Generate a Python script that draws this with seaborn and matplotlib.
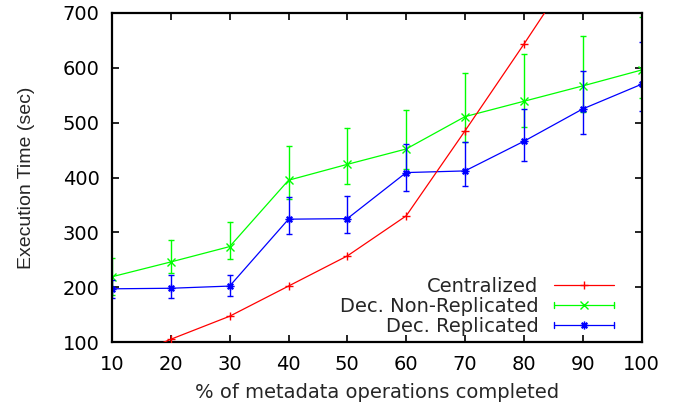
import numpy as np
import pandas as pd
import matplotlib
matplotlib.use("Agg")
import matplotlib.pyplot as plt
import seaborn as sns
from matplotlib.lines import Line2D
from matplotlib.legend_handler import HandlerBase

# ---------------- data ----------------
pct = [10, 20, 30, 40, 50, 60, 70, 80, 90, 100]
central = [60, 105, 147, 202, 257, 330, 485, 643, 805, 965]
nonrep = [219, 246, 274, 395, 424, 452, 511, 539, 567, 596]
nonrep_lo = [185, 225, 251, 360, 388, 415, 465, 492, 519, 545]
nonrep_hi = [253, 286, 318, 458, 491, 524, 591, 625, 658, 692]
rep = [197, 198, 202, 324, 325, 409, 412, 466, 525, 570]
rep_lo = [181, 181, 184, 297, 299, 375, 384, 431, 479, 521]
rep_hi = [213, 222, 223, 365, 367, 461, 464, 525, 594, 648]
series_names = ["Centralized", "Dec. Non-Replicated", "Dec. Replicated"]
colors = ["#ff0000", "#00ff00", "#0000ff"]
markers = ["+", "x", (8, 2, 0)]
x_ticks = [10, 20, 30, 40, 50, 60, 70, 80, 90, 100]
y_ticks = [100, 200, 300, 400, 500, 600, 700]
x_label = "% of metadata operations completed"
y_label = "Execution Time (sec)"

# long-form tables
df_c = pd.DataFrame({"pct": pct, "time": central, "series": series_names[0]})
rows = []
for name, mid, lo, hi in [(series_names[1], nonrep, nonrep_lo, nonrep_hi),
                          (series_names[2], rep, rep_lo, rep_hi)]:
    for x, m, l, h in zip(pct, mid, lo, hi):
        rows += [(name, x, l), (name, x, m), (name, x, h)]
df_d = pd.DataFrame(rows, columns=["series", "pct", "time"])

# ---------------- style ----------------
sns.set_style("ticks")
plt.rcParams["font.family"] = ["DejaVu Sans"]
plt.rcParams["font.size"] = 14

fig = plt.figure(figsize=(6.84, 4.05), dpi=100)
ax = fig.add_axes([112 / 684, 1 - 342 / 405, 529.5 / 684, 329 / 405])

lw = 0.9
ms = 5.5
for name, col, mk in zip(series_names[1:], colors[1:], markers[1:]):
    sns.lineplot(data=df_d[df_d["series"] == name], x="pct", y="time",
                 estimator="median", errorbar=("pi", 100), err_style="bars",
                 err_kws=dict(capsize=2.5, elinewidth=1.0, capthick=1.0),
                 color=col, marker=mk, ms=ms, mew=1.0, mec=col, lw=lw,
                 ax=ax, legend=False)
sns.lineplot(data=df_c, x="pct", y="time", errorbar=None, color=colors[0],
             marker=markers[0], ms=ms, mew=1.0, mec=colors[0], lw=lw,
             ax=ax, legend=False, zorder=5)

ax.set_xlim(10, 100)
ax.set_ylim(100, 700)
ax.set_xticks(x_ticks)
ax.set_yticks(y_ticks)
ax.tick_params(direction="in", length=5, width=1.2, top=True, right=True,
               labelsize=14, color="black", labelcolor="black")
ax.tick_params(axis="y", pad=9)
ax.tick_params(axis="x", pad=9.5)
for s in ax.spines.values():
    s.set_visible(True)
    s.set_linewidth(1.6)
    s.set_color("black")

ax.set_xlabel(x_label, fontsize=14)
ax.set_ylabel(y_label, fontsize=14, family=["Liberation Sans"])
ax.xaxis.set_label_coords(0.5, -0.125)
ax.yaxis.set_label_coords(-0.145, 0.5)


class ErrLineHandler(HandlerBase):
    def __init__(self, caps):
        super().__init__()
        self.caps = caps

    def create_artists(self, legend, orig, xdescent, ydescent, width, height,
                       fontsize, trans):
        y = height / 2 - ydescent
        x0, x1 = -xdescent, width - xdescent
        c = orig.get_color()
        arts = [Line2D([x0, x1], [y, y], color=c, lw=orig.get_linewidth()),
                Line2D([(x0 + x1) / 2], [y], marker=orig.get_marker(),
                       ms=orig.get_markersize(), mec=c, mew=1.0, ls="")]
        if self.caps:
            d = 2.3
            arts += [Line2D([x0, x0], [y - d, y + d], color=c, lw=1.0),
                     Line2D([x1, x1], [y - d, y + d], color=c, lw=1.0)]
        for a in arts:
            a.set_transform(trans)
        return arts


handles = [Line2D([], [], color=c, marker=m, ms=ms, lw=lw)
           for c, m in zip(colors, markers)]
hmap = {handles[0]: ErrLineHandler(False),
        handles[1]: ErrLineHandler(True),
        handles[2]: ErrLineHandler(True)}
ax.legend(handles, series_names, handler_map=hmap, loc="lower right",
          bbox_to_anchor=(0.967, -0.011), frameon=False, markerfirst=False,
          borderpad=0, handlelength=3.1, handletextpad=0.8,
          labelspacing=0.06, fontsize=14)

fig.savefig("out.png", dpi=100)
